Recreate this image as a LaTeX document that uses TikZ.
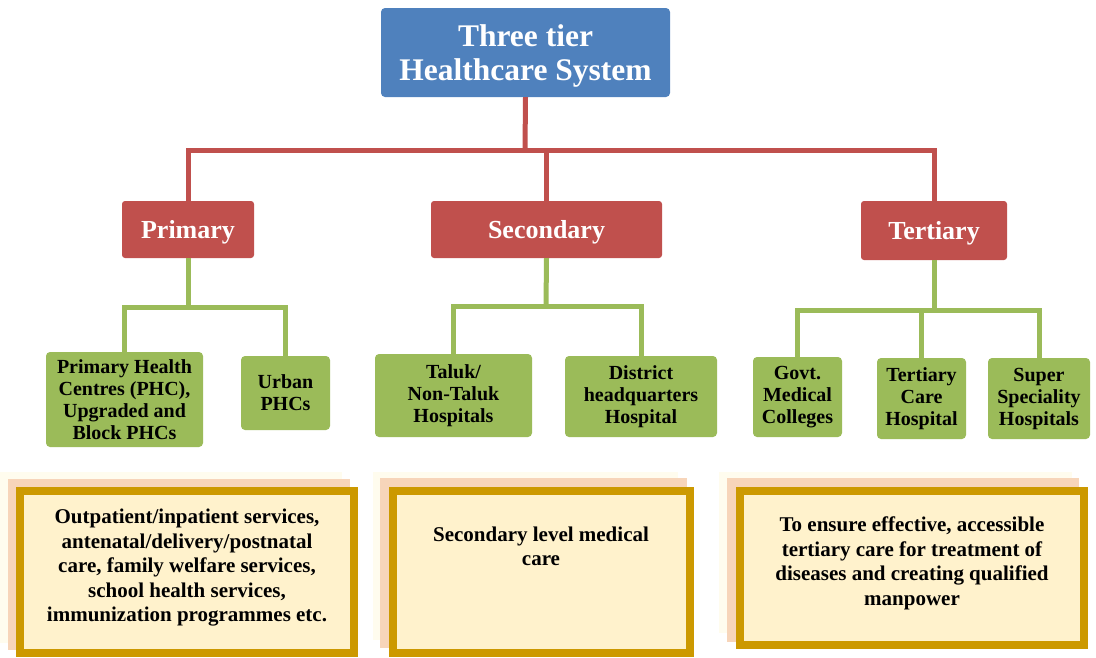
\documentclass[tikz,border=0pt]{standalone}
\usepackage{fontspec}
\setmainfont{Liberation Serif}
\definecolor{topblue}{HTML}{4F81BD}
\definecolor{tierred}{HTML}{C0504D}
\definecolor{leafgreen}{HTML}{9BBB59}
\definecolor{goldline}{HTML}{CC9900}
\definecolor{notefill}{HTML}{FFF2CC}
\definecolor{peach}{HTML}{F7D5BA}
\definecolor{pale}{HTML}{FFFCEE}
\begin{document}
\begin{tikzpicture}[x=1pt,y=-1pt,
  topbox/.style={fill=topblue,draw=none,rounded corners=4pt,text=white,inner sep=0pt,align=center,text depth=0pt,
    font=\bfseries\fontsize{31.5}{34}\selectfont},
  tierbox/.style={fill=tierred,draw=none,rounded corners=3pt,text=white,inner sep=0pt,align=center,text depth=0pt,
    font=\bfseries\fontsize{26}{28}\selectfont},
  leafbox/.style={fill=leafgreen,draw=none,rounded corners=4pt,text=black,inner sep=0pt,align=center,
    font=\bfseries\fontsize{20}{22}\selectfont},
  redline/.style={draw=tierred,line width=5pt},
  greenline/.style={draw=leafgreen,line width=5pt},
  notebox/.style={draw=goldline,fill=notefill,line width=8pt},
  notetext/.style={align=center,inner sep=0pt,font=\bfseries\fontsize{21}{24.5}\selectfont},
]
\useasboundingbox (0,0) rectangle (1096,657);

% top
\node[topbox,minimum width=289pt,minimum height=89pt] (top) at (525.5,52.5) {Three tier\\Healthcare System};

% tiers
\node[tierbox,minimum width=132pt,minimum height=57pt] (prim) at (188,229.5) {Primary};
\node[tierbox,minimum width=231pt,minimum height=57pt] (sec) at (546.5,229.5) {Secondary};
\node[tierbox,minimum width=146pt,minimum height=59pt] (tert) at (934,230.5) {Tertiary};

% red connectors
\coordinate (bus) at (525,150);
\draw[redline] (top.south) -- (bus);
\draw[redline] (prim.north) -- (prim.north |- bus) -- (tert.north |- bus) -- (tert.north);
\draw[redline] (sec.north) -- (sec.north |- bus);

% leaves
\node[leafbox,minimum width=157pt,minimum height=95pt] (phc) at (124.5,399.5) {Primary Health\\Centres (PHC),\\Upgraded and\\Block PHCs};
\node[leafbox,minimum width=89pt,minimum height=74pt] (urban) at (285.5,393) {Urban\\PHCs};
\node[leafbox,minimum width=157pt,minimum height=83pt] (taluk) at (453.5,395.5) {Taluk/\\Non-Taluk\\Hospitals};
\node[leafbox,minimum width=152pt,minimum height=81pt] (dist) at (641,396.5) {District\\headquarters\\Hospital};
\node[leafbox,minimum width=89pt,minimum height=80pt] (govt) at (797.5,397) {Govt.\\Medical\\Colleges};
\node[leafbox,minimum width=89pt,minimum height=81pt] (tcare) at (921.5,398.5) {Tertiary\\Care\\Hospital};
\node[leafbox,minimum width=102pt,minimum height=81pt] (super) at (1039,398.5) {Super\\Speciality\\Hospitals};

% green connectors
\coordinate (pbus) at (188,307);
\coordinate (sbus) at (546,306);
\coordinate (tbus) at (934,310);
\draw[greenline] (prim.south) -- (pbus);
\draw[greenline] (phc.north) -- (phc.north |- pbus) -- (urban.north |- pbus) -- (urban.north);
\draw[greenline] (sec.south) -- (sbus);
\draw[greenline] (taluk.north) -- (taluk.north |- sbus) -- (dist.north |- sbus) -- (dist.north);
\draw[greenline] (tert.south) -- (tbus);
\draw[greenline] (govt.north) -- (govt.north |- tbus) -- (super.north |- tbus) -- (super.north);
\draw[greenline] (tcare.north) -- (tcare.north |- tbus);

% bottom notes
\fill[pale] (0,472) rectangle (342,643);
\fill[peach] (8,479) rectangle (350,650);
\draw[notebox] (20,491) rectangle (354,653);
\node[notetext] (n1) at (187,568) {Outpatient/inpatient services,\\antenatal/delivery/postnatal\\care, family welfare services,\\school health services,\\immunization programmes etc.};

\fill[pale] (373,472) rectangle (678,640);
\fill[peach] (380,478) rectangle (687,648);
\draw[notebox] (393,491) rectangle (690,653);
\node[notetext] (n2) at (541,546.5) {Secondary level medical\\care};

\fill[pale] (719,472) rectangle (1072,633);
\fill[peach] (727,478) rectangle (1079,642);
\draw[notebox] (740,491) rectangle (1084,645);
\node[notetext] (n3) at (912,563.5) {To ensure effective, accessible\\tertiary care for treatment of\\diseases and creating qualified\\manpower};
\end{tikzpicture}
\end{document}
